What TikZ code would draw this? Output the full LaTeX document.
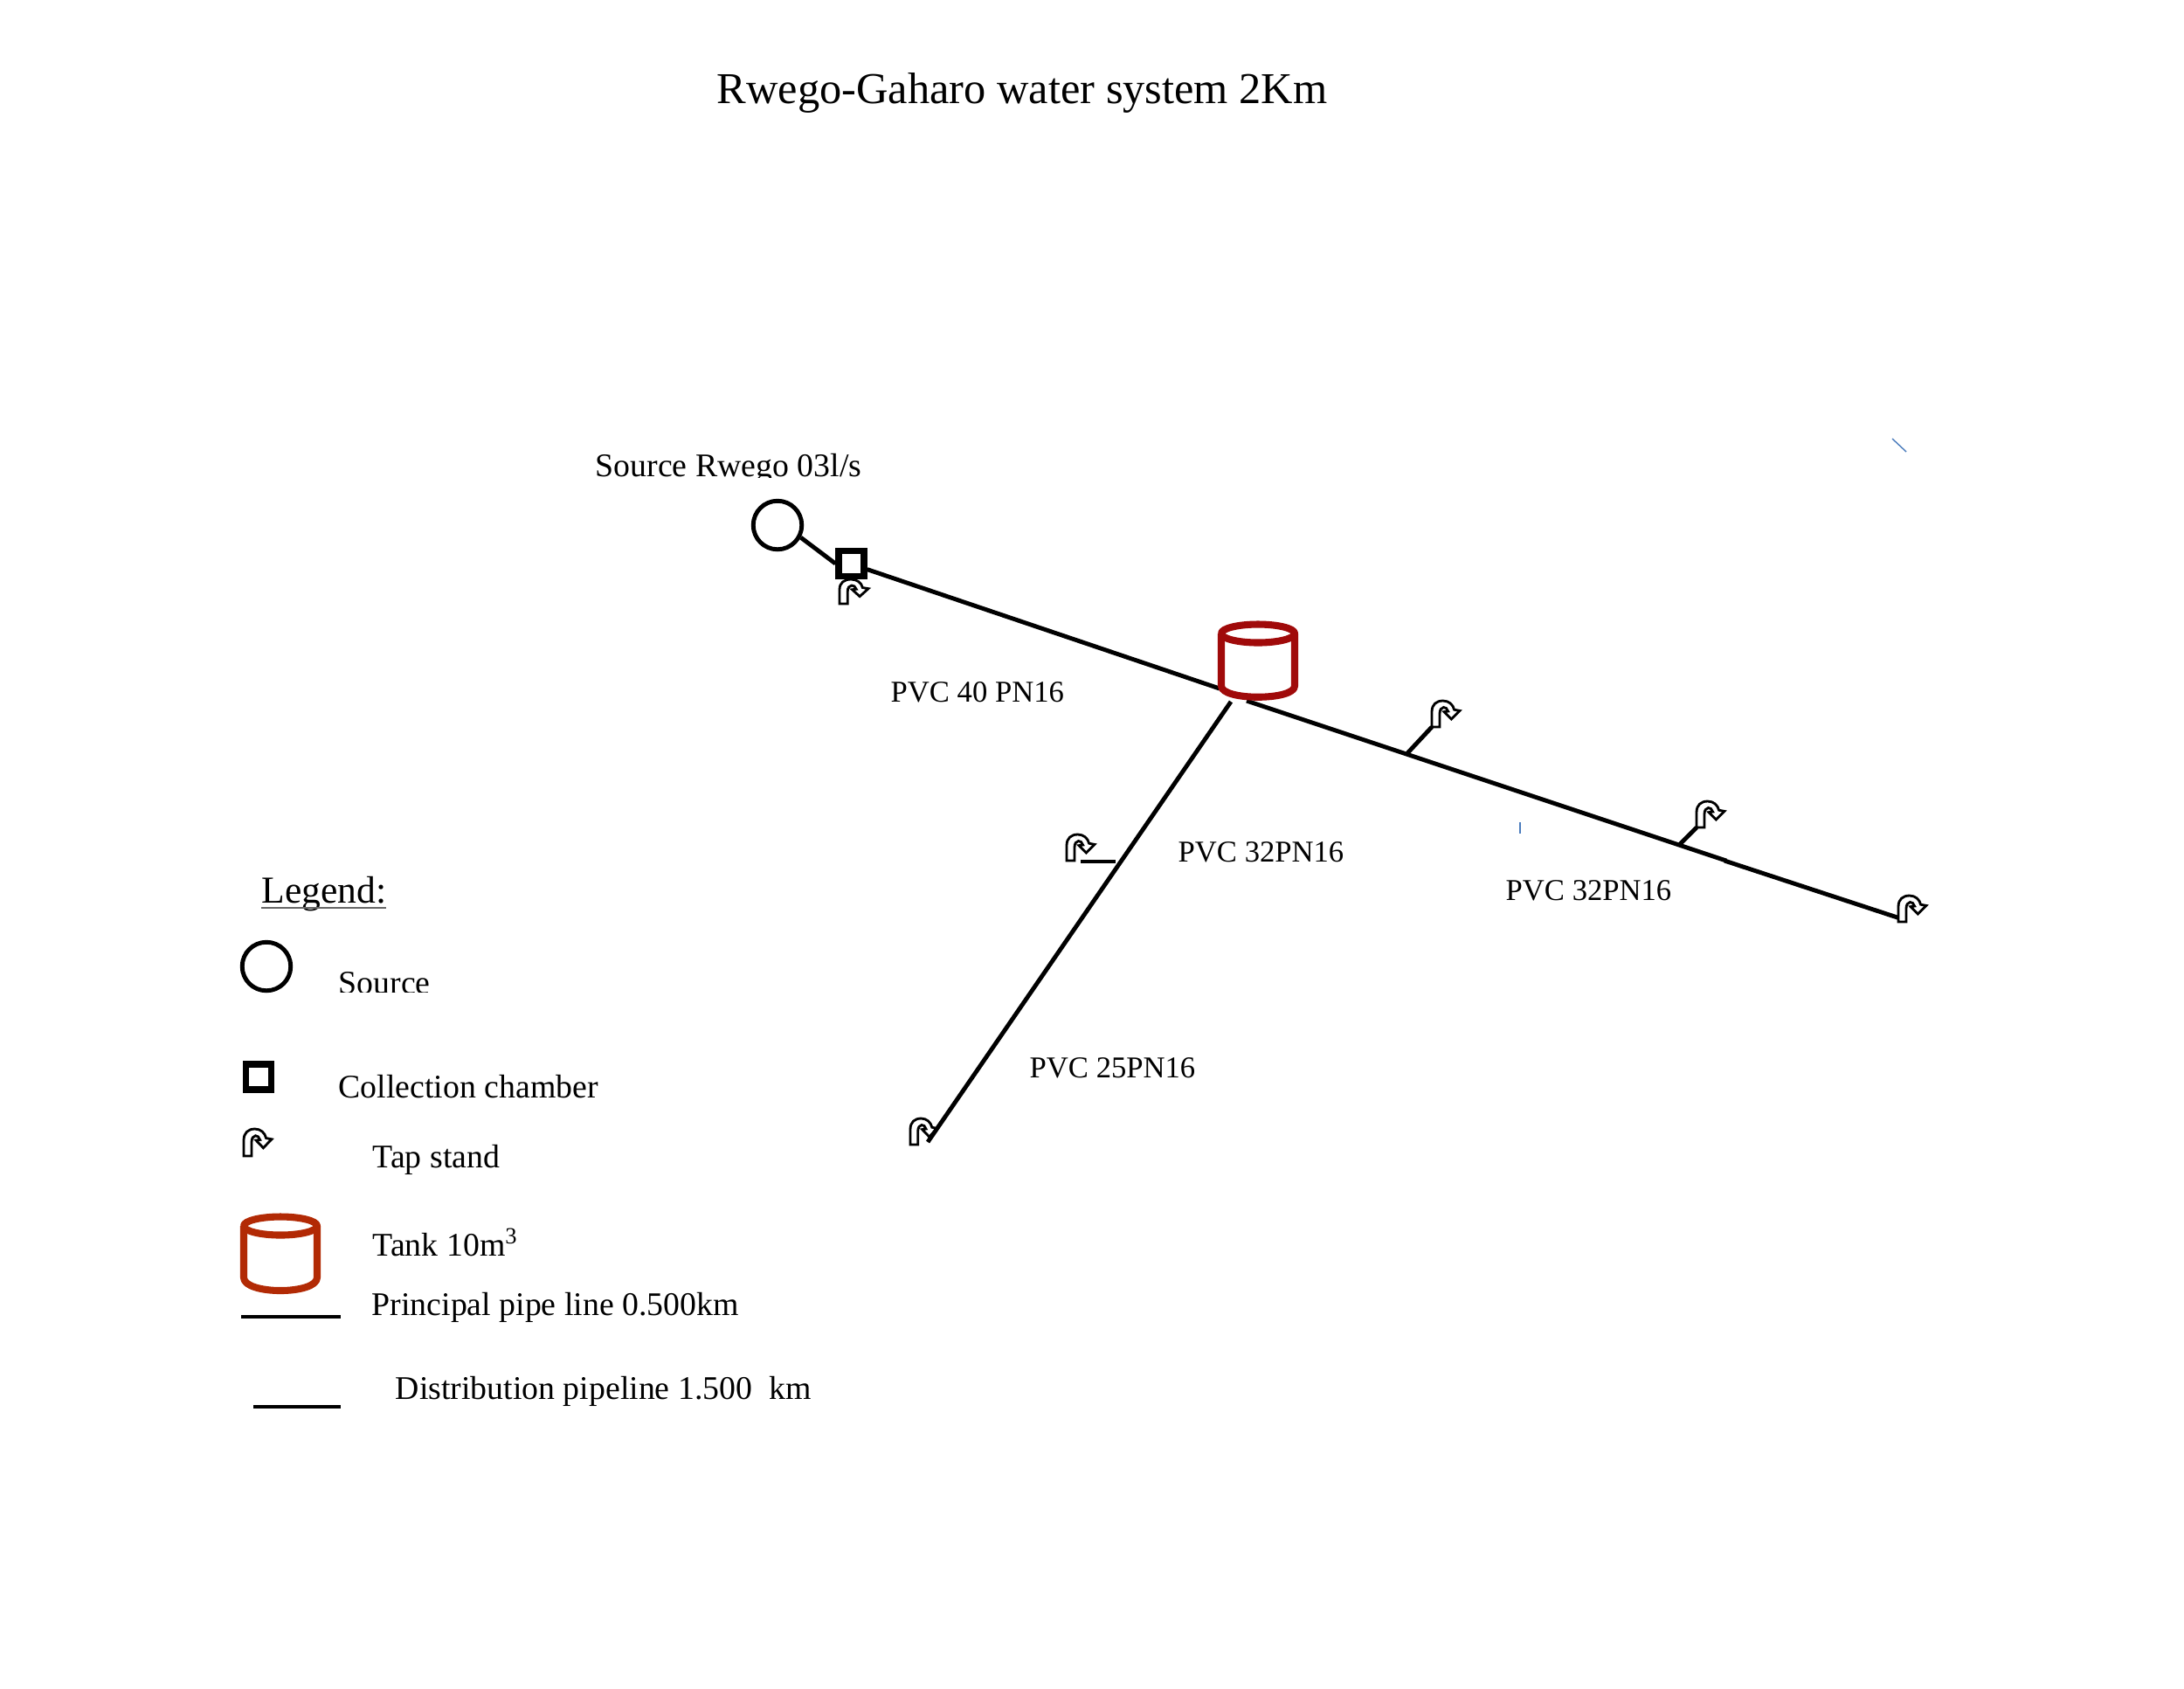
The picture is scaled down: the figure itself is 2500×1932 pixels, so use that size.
\documentclass[tikz,border=0pt]{standalone}
\usepackage{fontspec}
\setmainfont{Liberation Serif}
\newcommand{\tapicon}[5]{%
  \node[minimum width=#4*0.01cm,minimum height=#5*0.01cm,inner sep=0pt,outer sep=0pt,anchor=north west] (#1) at (#2,#3) {};
  \begin{scope}[shift={(#2,#3)},x=#4*0.01cm,y=-#5*0.01cm]
    \draw[tapline] (0,1) -- (0,.42) .. controls (0,.14) and (.16,0) .. (.4,0)
      .. controls (.6,0) and (.76,.14) .. (.8,.34) -- (1,.38) -- (.7,.7) -- (.44,.42) -- (.58,.4)
      .. controls (.56,.3) and (.48,.24) .. (.42,.25) .. controls (.34,.26) and (.28,.34) .. (.28,.5) -- (.28,1) -- cycle;
  \end{scope}}
\tikzset{
  x=0.01cm,y=-0.01cm,
  pipe/.style={line width=1.4pt,black},
  tapline/.style={line width=0.8pt,black,fill=white,line join=miter},
  srcshape/.style={circle,draw=black,line width=1.4pt,minimum size=0.555cm,inner sep=0pt,fill=white},
  chamber/.style={rectangle,draw=black,line width=2.1pt,minimum size=0.29cm,inner sep=0pt,fill=white},
  tanktop/.style={line width=2.3pt,line join=round},
  titletext/.style={anchor=base west,inner sep=0pt,font=\fontsize{14.34}{17}\selectfont},
  legendhead/.style={anchor=base west,inner sep=0pt,font=\fontsize{12.4}{15}\selectfont},
  mainlabel/.style={anchor=base west,inner sep=0pt,font=\fontsize{10.75}{13}\selectfont},
  pvclabel/.style={anchor=base west,inner sep=0pt,font=\fontsize{9.85}{12}\selectfont},
  tick/.style={line width=0.4pt,color=tickblue},
}
\definecolor{tankred}{HTML}{A00A0A}
\definecolor{tankleg}{HTML}{B22A05}
\definecolor{tickblue}{HTML}{4C7DBD}
\begin{document}
\begin{tikzpicture}
\useasboundingbox (0,0) rectangle (2500,1932);
\fill[white] (0,0) rectangle (2500,1932);

% texts
\node[titletext] (title) at (820,118) {Rwego-Gaharo water system 2Km};
\node[mainlabel] (srclabel) at (681,545) {Source Rwego 03l/s};
\fill[white] (675,547) rectangle (995,558);
\node[pvclabel] (pvcA) at (1019,803) {PVC 40 PN16};
\node[pvclabel] (pvcB) at (1348,986) {PVC 32PN16};
\node[pvclabel] (pvcC) at (1723,1030) {PVC 32PN16};
\node[pvclabel] (pvcD) at (1178,1233) {PVC 25PN16};

% network
\node[srcshape] (src) at (890,601) {};
\node[chamber] (cham) at (974.5,645) {};
\coordinate (tankL) at (1396,788);
\coordinate (tankR) at (1427,802);
\coordinate (tankB) at (1409,803);
\coordinate (joint) at (1976,985);
\coordinate (jointB) at (1974,985);
\coordinate (pipeEnd) at (2178,1052);
\coordinate (distEnd) at (1062,1307);
\coordinate (bA) at (1611,862);
\coordinate (bB) at (1923,966);
\coordinate (bC) at (1277,986);

\tapicon{tapA}{961}{663}{33}{28}
\node[chamber] at (cham) {};
\draw[pipe] (src.-28) -- (cham.west);
\draw[pipe] (cham.-20) -- (tankL);
\draw[pipe] (tankR) -- (joint);
\draw[pipe] (jointB) -- (pipeEnd);

\tapicon{tapB}{1639}{802}{32}{30}
\tapicon{tapC}{1942}{917}{32}{30}
\tapicon{tapD}{2173}{1025}{32}{30}
\tapicon{tapE}{1221}{955}{32}{30}
\tapicon{tapF}{1042}{1280}{31}{30}
\draw[pipe] (tankB) -- (distEnd);
\draw[pipe] (bA) -- (tapB.south west);
\draw[pipe] (bB) -- (tapC.south west);
\draw[pipe] (bC) -- (1237,986) coordinate (bCend);

% tank
\node[minimum width=0.92cm,minimum height=0.91cm,inner sep=0pt] (tank) at (1440,756.5) {};
\draw[tanktop,tankred,fill=white] (1398,725) -- (1398,785) .. controls (1398,802) and (1482,802) .. (1482,785) -- (1482,725);
\draw[tanktop,tankred] (1440,725) ellipse [x radius=42,y radius=10.5];

% stray ticks
\coordinate (tickA) at (2166,502);
\coordinate (tickB) at (2182,517);
\coordinate (tickC) at (1740,941);
\coordinate (tickD) at (1740,954);
\draw[tick] (tickA) -- (tickB);
\draw[tick] (tickC) -- (tickD);

% legend
\node[legendhead] (leg) at (299,1033) {Legend:};
\coordinate (legU) at (299,1039);
\coordinate (legV) at (442,1039);
\draw[line width=0.4pt,black!60] (legU) -- (legV);
\node[srcshape] (lsrc) at (305,1106) {};
\node[mainlabel] (lsrct) at (387,1137) {Source};
\fill[white] (380,1135.5) rectangle (500,1150);
\node[chamber] (lcham) at (296,1232.5) {};
\node[mainlabel] (lchamt) at (387,1256) {Collection chamber};
\tapicon{ltap}{279}{1292}{32}{31}
\node[mainlabel] (ltapt) at (426,1336) {Tap stand};
\node[minimum width=0.92cm,minimum height=0.92cm,inner sep=0pt] (ltank) at (321,1435) {};
\draw[tanktop,tankleg,fill=white] (279,1403) -- (279,1462) .. controls (279,1482) and (363,1482) .. (363,1462) -- (363,1403);
\draw[tanktop,tankleg] (321,1403) ellipse [x radius=42,y radius=10.5];
\node[mainlabel] (ltankt) at (426,1437) {Tank 10m\textsuperscript{3}};
\fill[white] (420,1437.5) rectangle (600,1446);
\coordinate (lpA) at (276,1507);
\coordinate (lpB) at (390,1507);
\draw[pipe] (lpA) -- (lpB);
\node[mainlabel] (lpt) at (425,1505) {Principal pipe line 0.500km};
\coordinate (ldA) at (290,1610);
\coordinate (ldB) at (390,1610);
\draw[pipe] (ldA) -- (ldB);
\node[mainlabel] (ldt) at (452,1601) {Distribution pipeline 1.500\ \ km};
\end{tikzpicture}
\end{document}
